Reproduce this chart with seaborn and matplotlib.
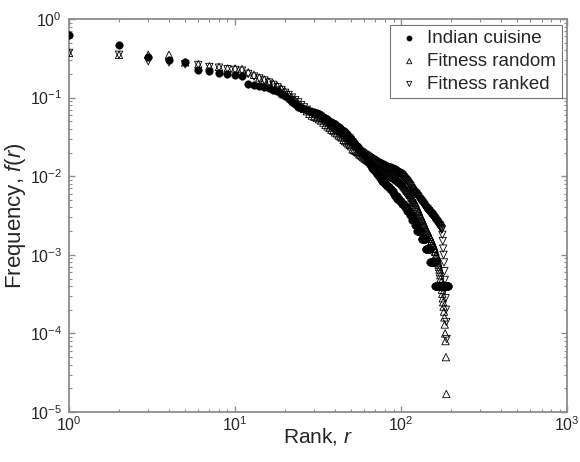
import numpy as np
import pandas as pd
import matplotlib
matplotlib.use("Agg")
import matplotlib.pyplot as plt
import seaborn as sns

# Indian cuisine: ingredient counts out of 2500 recipes, by rank
total_recipes = 2500
indian_counts = [
    1575, 1175, 810, 750, 700, 555, 550, 510, 495, 480,
    475, 370, 362, 352, 340, 328, 315, 300, 280, 260,
    240, 222, 205, 192, 183, 177, 172, 168, 165, 162,
    160, 154, 148, 142, 137, 132, 127, 122, 118, 114,
    110, 106, 102, 98, 94, 90, 86, 82, 78, 74,
    70, 67, 64, 61, 58, 55, 52, 50, 48, 46,
    44, 42, 40, 38, 36, 34, 32, 31, 30, 29,
    28, 27, 26, 25, 24, 23, 22, 21, 21, 20,
    20, 19, 19, 18, 18, 17, 17, 16, 16, 15,
    15, 14, 14, 14, 13, 13, 13, 12, 12, 12,
    11, 11, 11, 11, 10, 10, 10, 10, 9, 9,
    9, 9, 8, 8, 8, 8, 7, 7, 7, 7,
    6, 6, 6, 6, 5, 5, 5, 5, 5, 5,
    5, 5, 4, 4, 4, 4, 4, 4, 4, 4,
    3, 3, 3, 3, 3, 3, 3, 3, 3, 2,
    2, 2, 2, 2, 2, 2, 2, 2, 2, 1,
    1, 1, 1, 1, 1, 1, 1, 1, 1, 1,
    1, 1, 1, 1, 1, 1, 1, 1, 1, 1,
    1, 1, 1, 1, 1, 1, 1, 1, 1, 1,
    1, 1,
]

fitness_random = [
    0.37, 0.35, 0.35, 0.35, 0.28, 0.265, 0.25, 0.245, 0.235, 0.235,
    0.23, 0.21, 0.195, 0.18, 0.17, 0.16, 0.15, 0.14, 0.13, 0.12,
    0.11, 0.10, 0.092, 0.085, 0.078, 0.072, 0.067, 0.062, 0.059, 0.057,
    0.055, 0.053, 0.051, 0.048, 0.045, 0.043, 0.041, 0.039, 0.038, 0.036,
    0.035, 0.033, 0.032, 0.031, 0.029, 0.028, 0.027, 0.026, 0.025, 0.024,
    0.022, 0.0215, 0.021, 0.0205, 0.020, 0.019, 0.0185, 0.018, 0.0175, 0.017,
    0.0166, 0.0162, 0.0158, 0.0154, 0.015, 0.0146, 0.0143, 0.014, 0.0136, 0.0132,
    0.0128, 0.0125, 0.0122, 0.012, 0.0118, 0.0116, 0.0114, 0.0112, 0.011, 0.0109,
    0.0108, 0.0107, 0.0106, 0.0105, 0.0104, 0.0102, 0.01, 0.0099, 0.0097, 0.0096,
    0.0095, 0.0094, 0.0092, 0.009, 0.0089, 0.0088, 0.0086, 0.0085, 0.0083, 0.0082,
    0.008, 0.0078, 0.0076, 0.0074, 0.0072, 0.0070, 0.0068, 0.0066, 0.0065, 0.0063,
    0.0061, 0.006, 0.0058, 0.0057, 0.0055, 0.0053, 0.0052, 0.005, 0.0049, 0.0047,
    0.0046, 0.0045, 0.0043, 0.0041, 0.0039, 0.0038, 0.0036, 0.0035, 0.0033, 0.0032,
    0.0031, 0.003, 0.0029, 0.0028, 0.0027, 0.0026, 0.0025, 0.0024, 0.0023, 0.0022,
    0.0021, 0.0021, 0.002, 0.002, 0.0019, 0.0018, 0.0018, 0.0017, 0.0017, 0.0016,
    0.0016, 0.0015, 0.0015, 0.0014, 0.0014, 0.0013, 0.0013, 0.0012, 0.0012, 0.0011,
    0.0011, 0.001, 0.001, 0.00095, 0.0009, 0.00085, 0.0008, 0.00075, 0.0007, 0.00065,
    0.0006, 0.00055, 0.0005, 0.00045, 0.0004, 0.00036, 0.00032, 0.00028, 0.00025, 0.00022,
    0.00019, 0.00016, 0.00013, 0.0001, 0.00008, 0.00005, 0.000017,
]

fitness_ranked = [
    0.37, 0.35, 0.29, 0.28, 0.265, 0.26, 0.245, 0.24, 0.23, 0.225,
    0.22, 0.20, 0.185, 0.175, 0.165, 0.155, 0.145, 0.135, 0.125, 0.115,
    0.108, 0.10, 0.093, 0.087, 0.080, 0.075, 0.070, 0.066, 0.063, 0.060,
    0.058, 0.056, 0.053, 0.050, 0.048, 0.046, 0.044, 0.042, 0.040, 0.039,
    0.037, 0.036, 0.034, 0.033, 0.032, 0.030, 0.029, 0.028, 0.027, 0.026,
    0.025, 0.024, 0.023, 0.0225, 0.022, 0.021, 0.0205, 0.020, 0.0195, 0.019,
    0.0186, 0.0182, 0.0178, 0.0174, 0.017, 0.0166, 0.0163, 0.016, 0.0157, 0.0154,
    0.0151, 0.0148, 0.0146, 0.0144, 0.0142, 0.014, 0.0138, 0.0136, 0.0134, 0.0132,
    0.0131, 0.013, 0.0129, 0.0128, 0.0127, 0.0126, 0.0124, 0.0123, 0.0122, 0.012,
    0.0119, 0.0117, 0.0115, 0.0113, 0.0112, 0.011, 0.0109, 0.0108, 0.0106, 0.0105,
    0.0103, 0.0101, 0.0098, 0.0096, 0.0093, 0.0091, 0.0089, 0.0087, 0.0085, 0.0082,
    0.008, 0.0078, 0.0076, 0.0074, 0.0071, 0.0069, 0.0067, 0.0065, 0.0063, 0.0062,
    0.0061, 0.006, 0.0059, 0.0058, 0.0056, 0.0055, 0.0054, 0.0052, 0.0051, 0.005,
    0.0049, 0.0048, 0.0047, 0.0046, 0.0045, 0.0044, 0.0043, 0.0042, 0.0041, 0.004,
    0.0039, 0.0039, 0.0038, 0.0038, 0.0037, 0.0036, 0.0036, 0.0035, 0.0034, 0.0034,
    0.0033, 0.0033, 0.0032, 0.0032, 0.0031, 0.0030, 0.0030, 0.0029, 0.0029, 0.0028,
    0.0028, 0.0027, 0.0027, 0.0026, 0.0026, 0.0025, 0.0025, 0.0024, 0.0024, 0.0024,
    0.0023, 0.0023, 0.0022, 0.0022, 0.0021, 0.0021, 0.0018, 0.0015, 0.0012, 0.001,
    0.0008, 0.00062, 0.00048, 0.00037, 0.00028, 0.0002, 0.00014, 0.000085,
]

indian = pd.DataFrame({
    "rank": np.arange(1, len(indian_counts) + 1),
    "freq": np.array(indian_counts) / total_recipes,
})
rand = pd.DataFrame({"rank": np.arange(1, len(fitness_random) + 1), "freq": fitness_random})
ranked = pd.DataFrame({"rank": np.arange(1, len(fitness_ranked) + 1), "freq": fitness_ranked})

sns.set_style("ticks")
plt.rcParams["font.family"] = ["Liberation Sans", "DejaVu Sans"]
plt.rcParams["mathtext.fontset"] = "custom"
plt.rcParams["mathtext.rm"] = "Liberation Sans"
plt.rcParams["mathtext.it"] = "Liberation Sans:italic"

fig = plt.figure(figsize=(5.8, 4.62), dpi=100)
ax = fig.add_axes([0.119, 0.108, 0.859, 0.851])

sns.scatterplot(data=indian, x="rank", y="freq", ax=ax, marker="o", s=30,
                color="black", edgecolor="black", linewidth=0.3, label="Indian cuisine", zorder=3)
sns.scatterplot(data=rand, x="rank", y="freq", ax=ax, marker="^", s=28,
                facecolor="none", edgecolor="black", linewidth=0.6, label="Fitness random", zorder=4)
sns.scatterplot(data=ranked, x="rank", y="freq", ax=ax, marker="v", s=28,
                facecolor="none", edgecolor="black", linewidth=0.6, label="Fitness ranked", zorder=4)

ax.set_xscale("log")
ax.set_yscale("log")
ax.set_xlim(1, 1000)
ax.set_ylim(1e-5, 1)

ax.set_xlabel("Rank, $\\mathit{r}$", fontsize=15)
ax.set_ylabel("Frequency, $\\mathit{f(r)}$", fontsize=16)
ax.xaxis.set_label_coords(0.5, -0.035)
ax.yaxis.set_label_coords(-0.082, 0.5)

for side in ["top", "right", "bottom", "left"]:
    ax.spines[side].set_visible(True)
    ax.spines[side].set_color("#8c8c8c")
    ax.spines[side].set_linewidth(1.3)

ax.tick_params(which="both", direction="in", top=True, right=True, color="#8c8c8c")
ax.tick_params(which="major", length=4, width=1.0, labelsize=11.5)
ax.tick_params(axis="x", which="major", pad=2)
ax.tick_params(axis="y", which="major", pad=5)
ax.tick_params(which="minor", length=2.5, width=0.8)

leg = ax.legend(loc="upper right", fontsize=13.5, frameon=True, fancybox=False,
                edgecolor="#555555", markerscale=0.7, handlelength=1.5,
                handletextpad=0.2, labelspacing=0.3, borderpad=0.3, borderaxespad=0.3)
leg.get_frame().set_linewidth(0.8)

fig.savefig("out.png", dpi=100)
